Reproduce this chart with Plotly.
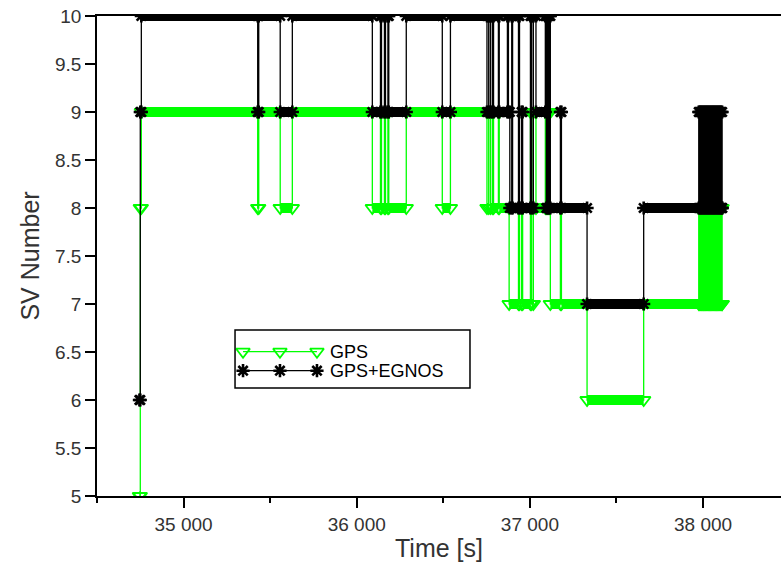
import plotly.graph_objects as go

# ---------------- data (change points: value holds from t until next t) ----------------
gps_t = [34745, 34750, 34756, 35428, 35434, 35558, 35628,
         36090, 36137, 36143, 36160, 36166, 36180, 36185, 36286,
         36494, 36541,
         36752, 36762, 36772, 36783, 36790, 36818, 36823, 36880,
         36934, 36940, 36952, 36958, 37003, 37010, 37020, 37035,
         37089, 37095, 37100, 37106, 37112, 37118, 37176, 37182,
         37330, 37657,
         37975, 37980, 37985, 37990, 37995, 38000, 38005, 38010, 38015, 38020,
         38025, 38030, 38035, 38040, 38045, 38050, 38055, 38060, 38065, 38070,
         38075, 38080, 38085, 38090, 38095, 38100, 38105, 38110]
gps_v = [5, 8, 9, 8, 9, 8, 9,
         8, 9, 8, 9, 8, 9, 8, 9,
         8, 9,
         8, 9, 8, 9, 8, 9, 8, 7,
         8, 7, 8, 7, 9, 7, 9, 8,
         9, 8, 9, 8, 9, 7, 8, 7,
         6, 7,
         8, 7, 8, 7, 8, 7, 8, 7, 8, 7,
         8, 7, 8, 7, 8, 7, 8, 7, 8, 7,
         8, 7, 8, 7, 8, 7, 8, 7]

egnos_t = [34745, 34750, 34756, 35428, 35434, 35558, 35628,
           36090, 36137, 36143, 36160, 36166, 36180, 36185, 36286,
           36494, 36541,
           36752, 36762, 36772, 36783, 36790, 36818, 36823, 36870, 36876, 36884,
           36895, 36900, 36934, 36940, 36952, 36958, 37003, 37010, 37020, 37035,
           37089, 37095, 37100, 37106, 37112, 37118, 37176, 37182,
           37330, 37657,
           37975, 37980, 37985, 37990, 37995, 38000, 38005, 38010, 38015, 38020,
           38025, 38030, 38035, 38040, 38045, 38050, 38055, 38060, 38065, 38070,
           38075, 38080, 38085, 38090, 38095, 38100, 38105, 38110]
egnos_v = [6, 9, 10, 9, 10, 9, 10,
           9, 10, 9, 10, 9, 10, 9, 10,
           9, 10,
           9, 10, 9, 10, 9, 10, 9, 10, 9, 8,
           10, 8, 10, 8, 9, 8, 10, 8, 10, 9,
           10, 8, 10, 8, 10, 8, 9, 8,
           7, 8,
           9, 8, 9, 8, 9, 8, 9, 8, 9, 8,
           9, 8, 9, 8, 9, 8, 9, 8, 9, 8,
           9, 8, 9, 8, 9, 8, 9, 8]

series_names = ["GPS", "GPS+EGNOS"]
x_tick_vals = [35000, 36000, 37000, 38000]
y_tick_vals = [5, 5.5, 6, 6.5, 7, 7.5, 8, 8.5, 9, 9.5, 10]

GREEN = "#00ff00"
BLACK = "#000000"
TXT = "#333333"
FONT = "Liberation Sans, Arial, sans-serif"


def runs(t, v):
    xs, ys = [], []
    for i in range(len(t)):
        t_end = t[i + 1] if i + 1 < len(t) else t[i]
        xs += [t[i], t_end, None]
        ys += [v[i], v[i], None]
    return xs, ys


fig = go.Figure()

styles = [
    (gps_t, gps_v, GREEN, dict(symbol="triangle-down-open", size=12,
                               line=dict(width=1.8, color=GREEN), color=GREEN), 10),
    (egnos_t, egnos_v, BLACK, dict(symbol="asterisk-open", size=11,
                                   line=dict(width=2.6, color=BLACK), color=BLACK), 10),
]

for (t, v, col, mk, bw) in styles:
    bx, by = runs(t, v)
    # thick marker bands
    fig.add_trace(go.Scatter(x=bx, y=by, mode="lines+markers",
                             line=dict(color=col, width=bw), marker=mk,
                             showlegend=False, hoverinfo="skip"))
    # connecting thin line
    fig.add_trace(go.Scatter(x=t, y=v, mode="lines", line_shape="hv",
                             line=dict(color=col, width=1.3),
                             showlegend=False, hoverinfo="skip"))

# ---------------- custom legend (paper fractions on hidden overlay axes) ----------------
leg_x = [0.2135, 0.2675, 0.3216]
leg_rows = [0.3006, 0.261]
for (t, v, col, mk, bw), yy, name in zip(styles, leg_rows, series_names):
    fig.add_trace(go.Scatter(x=leg_x, y=[yy] * 3, mode="lines+markers",
                             line=dict(color=col, width=1.3), marker=mk,
                             xaxis="x2", yaxis="y2", showlegend=False,
                             hoverinfo="skip", cliponaxis=False))
    fig.add_annotation(x=0.3377, y=yy, xref="paper", yref="paper",
                       text=name, showarrow=False, xanchor="left", yanchor="middle",
                       font=dict(family=FONT, size=18, color=BLACK))

fig.add_shape(type="rect", xref="paper", yref="paper",
              x0=0.2018, x1=0.5453, y0=0.225, y1=0.3458,
              line=dict(color=BLACK, width=1.5), fillcolor="rgba(0,0,0,0)")

fig.update_layout(
    width=781, height=568,
    margin=dict(l=97, r=0, t=16, b=72),
    paper_bgcolor="white", plot_bgcolor="white",
    separators=". ",
    font=dict(family=FONT, color=TXT),
    xaxis=dict(range=[34500, 38450], tickvals=x_tick_vals, tickformat=",d",
               ticks="outside", ticklen=10, tickwidth=1.5, tickcolor=BLACK,
               minor=dict(dtick=500, tick0=34500, ticks="outside", ticklen=5,
                          tickwidth=1.5, tickcolor=BLACK, showgrid=False),
               showline=True, linecolor=BLACK, linewidth=1.5, mirror=True,
               showgrid=False, zeroline=False,
               tickfont=dict(size=19, color=TXT),
               title=dict(text="Time [s]", font=dict(size=25, color=TXT), standoff=6)),
    yaxis=dict(range=[5, 10], tickvals=y_tick_vals,
               ticks="outside", ticklen=10, tickwidth=1.5, tickcolor=BLACK,
               showline=True, linecolor=BLACK, linewidth=1.5,
               showgrid=False, zeroline=False,
               tickfont=dict(size=19, color=TXT),
               title=dict(text="SV Number", font=dict(size=25, color=TXT), standoff=8)),
    xaxis2=dict(overlaying="x", range=[0, 1], visible=False),
    yaxis2=dict(overlaying="y", range=[0, 1], visible=False),
)

fig.write_html("out.html")
